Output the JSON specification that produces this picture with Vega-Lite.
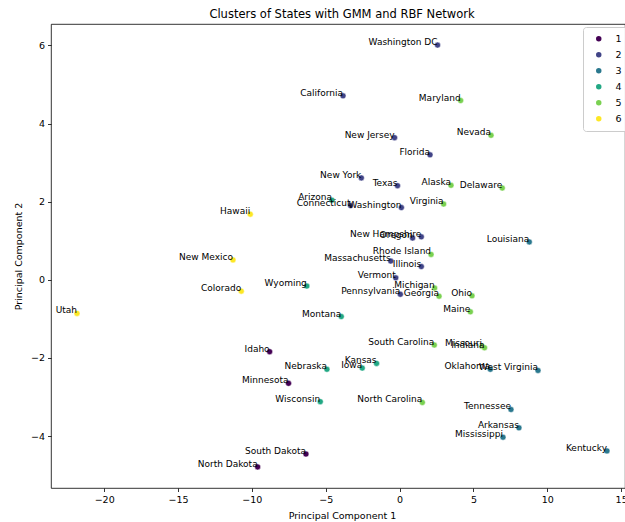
{
  "$schema": "https://vega.github.io/schema/vega-lite/v6.json",
  "width": 574,
  "height": 464,
  "autosize": {"type": "none"},
  "padding": {"left": 51, "top": 24, "right": 0, "bottom": 34},
  "background": "white",
  "title": {"text": "Clusters of States with GMM and RBF Network", "font": "DejaVu Sans", "fontSize": 11.5, "fontWeight": "normal", "color": "#000", "anchor": "middle", "dx": 4, "offset": 4},
  "config": {
    "view": {"stroke": "#000", "strokeWidth": 0.8},
    "axis": {"grid": false, "domain": false, "tickColor": "#000", "tickSize": 3.5, "tickWidth": 0.8, "labelFont": "DejaVu Sans", "labelFontSize": 9.5, "labelColor": "#000", "titleFont": "DejaVu Sans", "titleFontSize": 9.5, "titleFontWeight": "normal", "titleColor": "#000", "labelPadding": 3}
  },
  "data": {"values": [
    {"state": "Washington DC", "pc1": 2.57, "pc2": 6.01, "cluster": "2"},
    {"state": "California", "pc1": -3.83, "pc2": 4.71, "cluster": "2"},
    {"state": "Maryland", "pc1": 4.13, "pc2": 4.59, "cluster": "5"},
    {"state": "New Jersey", "pc1": -0.34, "pc2": 3.64, "cluster": "2"},
    {"state": "Nevada", "pc1": 6.19, "pc2": 3.70, "cluster": "5"},
    {"state": "Florida", "pc1": 2.06, "pc2": 3.20, "cluster": "2"},
    {"state": "New York", "pc1": -2.59, "pc2": 2.61, "cluster": "2"},
    {"state": "Texas", "pc1": -0.14, "pc2": 2.41, "cluster": "2"},
    {"state": "Alaska", "pc1": 3.48, "pc2": 2.42, "cluster": "5"},
    {"state": "Delaware", "pc1": 6.95, "pc2": 2.35, "cluster": "5"},
    {"state": "Arizona", "pc1": -4.58, "pc2": 2.04, "cluster": "4"},
    {"state": "Connecticut", "pc1": -3.32, "pc2": 1.90, "cluster": "2"},
    {"state": "Washington", "pc1": 0.12, "pc2": 1.85, "cluster": "2"},
    {"state": "Virginia", "pc1": 2.98, "pc2": 1.94, "cluster": "5"},
    {"state": "Hawaii", "pc1": -10.11, "pc2": 1.68, "cluster": "6"},
    {"state": "Oregon", "pc1": 0.88, "pc2": 1.07, "cluster": "2"},
    {"state": "New Hampshire", "pc1": 1.47, "pc2": 1.10, "cluster": "2"},
    {"state": "Louisiana", "pc1": 8.78, "pc2": 0.97, "cluster": "3"},
    {"state": "Rhode Island", "pc1": 2.13, "pc2": 0.65, "cluster": "5"},
    {"state": "New Mexico", "pc1": -11.28, "pc2": 0.51, "cluster": "6"},
    {"state": "Massachusetts", "pc1": -0.60, "pc2": 0.48, "cluster": "2"},
    {"state": "Illinois", "pc1": 1.47, "pc2": 0.34, "cluster": "2"},
    {"state": "Vermont", "pc1": -0.26, "pc2": 0.05, "cluster": "2"},
    {"state": "Wyoming", "pc1": -6.28, "pc2": -0.16, "cluster": "4"},
    {"state": "Colorado", "pc1": -10.72, "pc2": -0.29, "cluster": "6"},
    {"state": "Michigan", "pc1": 2.37, "pc2": -0.21, "cluster": "5"},
    {"state": "Pennsylvania", "pc1": 0.05, "pc2": -0.37, "cluster": "2"},
    {"state": "Georgia", "pc1": 2.67, "pc2": -0.42, "cluster": "5"},
    {"state": "Ohio", "pc1": 4.90, "pc2": -0.41, "cluster": "5"},
    {"state": "Utah", "pc1": -21.84, "pc2": -0.86, "cluster": "6"},
    {"state": "Maine", "pc1": 4.79, "pc2": -0.82, "cluster": "5"},
    {"state": "Montana", "pc1": -3.95, "pc2": -0.94, "cluster": "4"},
    {"state": "South Carolina", "pc1": 2.35, "pc2": -1.67, "cluster": "5"},
    {"state": "Missouri", "pc1": 5.58, "pc2": -1.70, "cluster": "5"},
    {"state": "Indiana", "pc1": 5.75, "pc2": -1.74, "cluster": "5"},
    {"state": "Idaho", "pc1": -8.80, "pc2": -1.84, "cluster": "1"},
    {"state": "Kansas", "pc1": -1.56, "pc2": -2.14, "cluster": "4"},
    {"state": "Iowa", "pc1": -2.53, "pc2": -2.26, "cluster": "4"},
    {"state": "Nebraska", "pc1": -4.92, "pc2": -2.29, "cluster": "4"},
    {"state": "Oklahoma", "pc1": 6.14, "pc2": -2.29, "cluster": "3"},
    {"state": "West Virginia", "pc1": 9.37, "pc2": -2.32, "cluster": "3"},
    {"state": "Minnesota", "pc1": -7.52, "pc2": -2.65, "cluster": "1"},
    {"state": "Wisconsin", "pc1": -5.37, "pc2": -3.12, "cluster": "4"},
    {"state": "North Carolina", "pc1": 1.54, "pc2": -3.14, "cluster": "5"},
    {"state": "Tennessee", "pc1": 7.54, "pc2": -3.32, "cluster": "3"},
    {"state": "Arkansas", "pc1": 8.08, "pc2": -3.79, "cluster": "3"},
    {"state": "Mississippi", "pc1": 7.00, "pc2": -4.03, "cluster": "3"},
    {"state": "Kentucky", "pc1": 14.04, "pc2": -4.38, "cluster": "3"},
    {"state": "South Dakota", "pc1": -6.34, "pc2": -4.46, "cluster": "1"},
    {"state": "North Dakota", "pc1": -9.61, "pc2": -4.79, "cluster": "1"}
  ]},
  "encoding": {
    "x": {"field": "pc1", "type": "quantitative", "scale": {"domain": [-23.6, 15.26], "nice": false, "zero": false}, "axis": {"values": [-20, -15, -10, -5, 0, 5, 10, 15], "title": "Principal Component 1", "titleX": 291, "titlePadding": 6}},
    "y": {"field": "pc2", "type": "quantitative", "scale": {"domain": [-5.33, 6.55], "nice": false, "zero": false}, "axis": {"values": [-4, -2, 0, 2, 4, 6], "title": "Principal Component 2", "titlePadding": 7}}
  },
  "layer": [
    {
      "mark": {"type": "point", "filled": true, "size": 36, "opacity": 1, "stroke": "white", "strokeWidth": 0.5},
      "encoding": {
        "color": {"field": "cluster", "type": "nominal", "scale": {"domain": ["1", "2", "3", "4", "5", "6"], "range": ["#440154", "#414487", "#2a788e", "#22a884", "#7ad151", "#fde725"]},
          "legend": {"title": null, "orient": "none", "legendX": 532, "legendY": 3, "strokeColor": "#cccccc", "cornerRadius": 3, "fillColor": "rgba(255,255,255,0.8)", "padding": 7, "symbolSize": 30, "symbolType": "circle", "symbolStrokeWidth": 0, "symbolOpacity": 1, "labelFont": "DejaVu Sans", "labelFontSize": 9.5, "labelColor": "#000", "rowPadding": 5, "labelOffset": 12, "symbolOffset": 4}}
      }
    },
    {
      "mark": {"type": "text", "align": "right", "baseline": "alphabetic", "font": "DejaVu Sans", "fontSize": 9, "color": "#000"},
      "encoding": {"text": {"field": "state", "type": "nominal"}}
    }
  ]
}
